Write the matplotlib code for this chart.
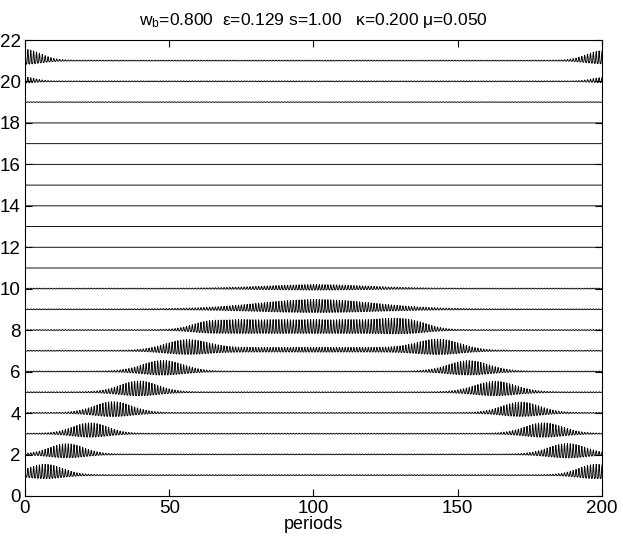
import numpy as np
import matplotlib
matplotlib.use("Agg")
import matplotlib.pyplot as plt

plt.rcParams['font.family'] = ['Liberation Sans', 'DejaVu Sans']
plt.rcParams['mathtext.fontset'] = 'custom'
plt.rcParams['mathtext.rm'] = 'Liberation Sans'
plt.rcParams['mathtext.it'] = 'Liberation Sans'

# ---- data ----
trace_ids = list(range(1, 22))          # oscillator index (vertical offset)
base_amp = [0.03, 0.03, 0.03, 0.03, 0.03, 0.03, 0.03, 0.03, 0.03, 0.03,
            0.0, 0.0, 0.0, 0.0, 0.0, 0.0, 0.0, 0.0, 0.02, 0.03, 0.03]

# wave packets (envelope bumps): trace, centre [periods], amplitude, width
pk_trace = [1, 1, 2, 2, 3, 3, 4, 4, 5, 5, 6, 6,
            7, 7, 7, 7, 7,
            8, 8, 8, 8, 8, 8, 8,
            9, 10,
            20, 20, 21, 21]
pk_center = [7.0, 198.0, 14.5, 188.0, 22.6, 179.8, 30.5, 171.9, 39.5, 163.0, 47.8, 153.8,
             56.0, 143.6, 75.0, 100.0, 125.0,
             64.0, 76.0, 88.0, 100.0, 112.0, 124.0, 134.0,
             101.0, 101.0,
             0.0, 200.0, 0.0, 200.0]
pk_amp = [0.50, 0.50, 0.49, 0.50, 0.50, 0.50, 0.52, 0.50, 0.52, 0.50, 0.51, 0.50,
          0.48, 0.50, 0.12, 0.12, 0.12,
          0.38, 0.38, 0.38, 0.38, 0.38, 0.38, 0.38,
          0.45, 0.17,
          0.18, 0.16, 0.52, 0.45]
pk_width = [6.0, 6.0, 6.0, 6.5, 6.0, 6.5, 6.5, 6.5, 6.5, 7.0, 7.0, 7.0,
            7.5, 7.5, 12.0, 12.0, 12.0,
            6.0, 6.0, 6.0, 6.0, 6.0, 6.0, 6.0,
            20.0, 17.0,
            3.5, 3.5, 5.3, 5.3]

x_ticks = [0, 50, 100, 150, 200]
y_ticks = [0, 2, 4, 6, 8, 10, 12, 14, 16, 18, 20, 22]
title = r"w$_{\mathrm{b}}$=0.800  ε=0.129 s=1.00   κ=0.200 μ=0.050"

# ---- drawing ----
fig = plt.figure(figsize=(6.23, 5.40), dpi=100)
ax = fig.add_axes([0.0401, 0.0815, 0.9262, 0.8444])

t = np.linspace(0, 200, 200 * 12 + 1)
c = np.cos(2 * np.pi * t)
carrier = 0.65 * c + 0.35 * c ** 2

for n, b in zip(trace_ids, base_amp):
    env = np.full_like(t, b)
    for tr, cen, a, w in zip(pk_trace, pk_center, pk_amp, pk_width):
        if tr == n:
            env = env + a * np.exp(-0.5 * ((t - cen) / w) ** 2)
    ax.plot(t, n + env * carrier, color='black', lw=0.65)

ax.set_xlim(0, 200)
ax.set_ylim(0, 22)
ax.set_xticks(x_ticks)
ax.set_yticks(y_ticks)
ax.tick_params(direction='in', length=5, top=True, right=True, labelsize=13.5,
               width=0.8, pad=3)
for s in ax.spines.values():
    s.set_linewidth(0.8)
ax.set_xlabel("periods", fontsize=13, labelpad=-1)
ax.set_title(title, fontsize=12.5, pad=11)

fig.savefig("out.png", dpi=100)
